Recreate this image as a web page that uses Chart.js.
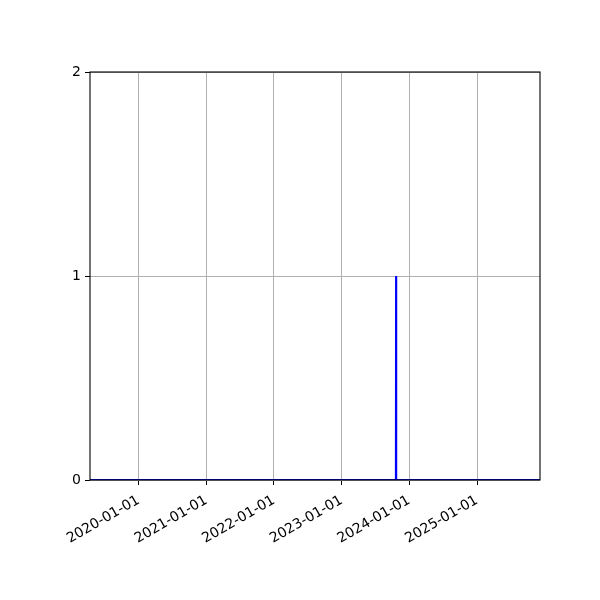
<!DOCTYPE html>
<html>
<head>
<meta charset="utf-8">
<script src="https://cdn.jsdelivr.net/npm/chart.js@4.4.1/dist/chart.umd.min.js"></script>
<style>
  html, body { margin: 0; padding: 0; background: #ffffff; }
  #wrap { width: 600px; height: 600px; }
</style>
</head>
<body>
<div id="wrap"><canvas id="c" width="600" height="600"></canvas></div>
<script>
// ---- data ----
const dates = ['2019-04-14', '2023-10-21', '2023-10-22', '2023-10-23', '2025-12-07'];
const values = [0, 0, 1, 0, 0];
const xRange = ['2019-04-14', '2025-12-07'];
const tickYears = [2020, 2021, 2022, 2023, 2024, 2025];
const yTicks = [0, 1, 2];

const points = dates.map((d, i) => ({ x: Date.parse(d), y: values[i] }));

const framePlugin = {
  id: 'frame',
  afterDatasetsDraw(chart) {
    const { ctx, chartArea: a } = chart;
    ctx.save();
    ctx.strokeStyle = '#000000';
    ctx.lineWidth = 1.1;
    ctx.strokeRect(a.left, a.top, a.right - a.left, a.bottom - a.top);
    ctx.restore();
  }
};

const pad2 = n => String(n).padStart(2, '0');

new Chart(document.getElementById('c'), {
  type: 'line',
  data: {
    datasets: [{
      data: points,
      borderColor: '#0000ff',
      borderWidth: 2,
      pointRadius: 0,
      tension: 0,
      fill: false
    }]
  },
  options: {
    responsive: false,
    animation: false,
    parsing: true,
    layout: { padding: { left: 0, top: 72, right: 60, bottom: 0 } },
    plugins: { legend: { display: false }, tooltip: { enabled: false } },
    scales: {
      x: {
        type: 'linear',
        min: Date.parse(xRange[0]),
        max: Date.parse(xRange[1]),
        afterBuildTicks(scale) {
          scale.ticks = tickYears.map(y => ({ value: Date.UTC(y, 0, 1) }));
        },
        afterFit(scale) { scale.height = 120; },
        grid: {
          color: '#b0b0b0',
          lineWidth: 1,
          tickColor: '#000000',
          tickLength: 5,
          drawOnChartArea: true
        },
        border: { display: false },
        ticks: {
          autoSkip: false,
          maxRotation: 30,
          minRotation: 30,
          padding: 7,
          color: '#000000',
          font: { family: 'DejaVu Sans', size: 14 },
          callback(v) {
            const d = new Date(v);
            return d.getUTCFullYear() + '-' + pad2(d.getUTCMonth() + 1) + '-' + pad2(d.getUTCDate());
          }
        }
      },
      y: {
        type: 'linear',
        min: 0,
        max: 2,
        afterBuildTicks(scale) {
          scale.ticks = yTicks.map(v => ({ value: v }));
        },
        afterFit(scale) { scale.width = 90; },
        grid: {
          color: '#b0b0b0',
          lineWidth: 1,
          tickColor: '#000000',
          tickLength: 5
        },
        border: { display: false },
        ticks: {
          padding: 4,
          color: '#000000',
          font: { family: 'DejaVu Sans', size: 14 },
          callback(v) { return String(v); }
        }
      }
    }
  },
  plugins: [framePlugin]
});
</script>
</body>
</html>
